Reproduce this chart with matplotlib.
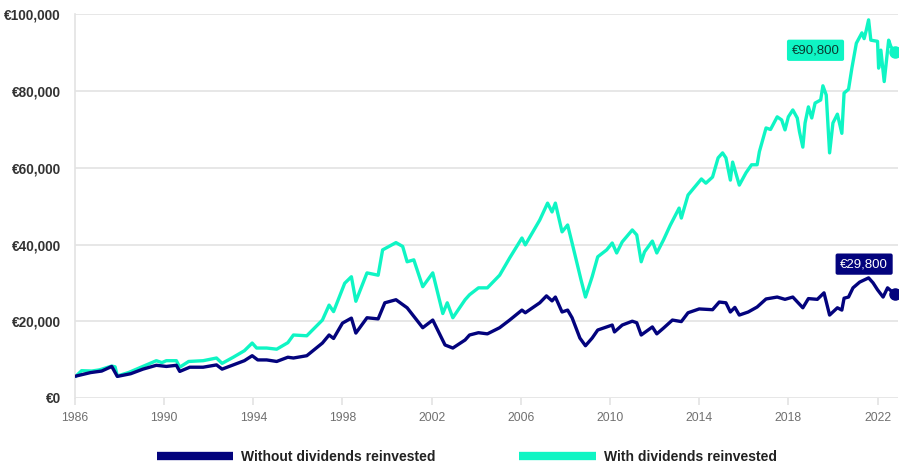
import matplotlib
matplotlib.use("Agg")
import matplotlib.pyplot as plt
from matplotlib.ticker import FuncFormatter, FixedLocator

# ---------------- data ----------------
years_div = [1986.05, 1986.3, 1986.75, 1987.1, 1987.65, 1987.8, 1987.9, 1988.4, 1989.05, 1989.65,
             1989.9, 1990.1, 1990.55, 1990.7, 1991.1, 1991.75, 1992.35, 1992.6, 1993.1, 1993.6,
             1993.95, 1994.15, 1994.6, 1995.05, 1995.55, 1995.8, 1996.4, 1997.1, 1997.4, 1997.6,
             1998.1, 1998.4, 1998.6, 1999.1, 1999.6, 1999.8, 2000.4, 2000.7, 2000.9, 2001.2,
             2001.6, 2002.05, 2002.5, 2002.7, 2002.95, 2003.5, 2003.7, 2004.1, 2004.5, 2005.05,
             2005.5, 2006.05, 2006.2, 2006.85, 2007.2, 2007.4, 2007.55, 2007.85, 2008.1, 2008.3,
             2008.7, 2008.9, 2009.2, 2009.45, 2009.85, 2010.1, 2010.3, 2010.55, 2011.0, 2011.2,
             2011.4, 2011.55, 2011.9, 2012.1, 2012.4, 2012.7, 2013.1, 2013.2, 2013.5, 2013.8,
             2014.1, 2014.3, 2014.6, 2014.85, 2015.05, 2015.2, 2015.4, 2015.5, 2015.8, 2016.1,
             2016.35, 2016.6, 2016.7, 2017.0, 2017.2, 2017.5, 2017.7, 2017.85, 2018.0, 2018.2,
             2018.4, 2018.5, 2018.65, 2018.75, 2018.9, 2019.05, 2019.2, 2019.45, 2019.55, 2019.7,
             2019.85, 2020.0, 2020.2, 2020.4, 2020.5, 2020.7, 2020.85, 2021.05, 2021.3, 2021.4,
             2021.5, 2021.6, 2021.7, 2022.0, 2022.05, 2022.15, 2022.3, 2022.5, 2022.6, 2022.77]
with_div = [5700, 7100, 7000, 7300, 8300, 8100, 5700, 6600, 8200, 9700,
            9200, 9700, 9700, 8000, 9500, 9700, 10400, 9000, 10600, 12300,
            14300, 13000, 13000, 12700, 14400, 16400, 16200, 20300, 24200, 22500,
            29900, 31600, 25200, 32600, 32000, 38600, 40500, 39500, 35500, 36000,
            29000, 32600, 22000, 24800, 20900, 25600, 26900, 28700, 28700, 32000,
            36500, 41700, 39900, 46400, 50800, 48500, 50800, 43300, 45100, 40400,
            30800, 26300, 31600, 36800, 38600, 40400, 37800, 40700, 43800, 42500,
            35500, 38100, 40900, 37800, 41200, 45000, 49500, 46900, 52900, 55000,
            57100, 56000, 57600, 62600, 63900, 62600, 56800, 61500, 55500, 58700,
            60800, 60800, 64200, 70400, 70000, 73300, 72500, 69900, 73300, 75100,
            73000, 69400, 65400, 71700, 75900, 73000, 76900, 77700, 81400, 79000,
            63900, 71700, 74000, 69000, 79500, 80500, 86000, 92500, 95200, 93700,
            96000, 98600, 93300, 93000, 86000, 90700, 82500, 93300, 91600, 90300]

years_nodiv = [1986.05, 1986.7, 1987.2, 1987.65, 1987.9, 1988.5, 1989.05, 1989.65, 1990.1, 1990.55,
               1990.7, 1991.15, 1991.75, 1992.35, 1992.6, 1993.1, 1993.6, 1993.95, 1994.2, 1994.6,
               1995.05, 1995.55, 1995.8, 1996.4, 1997.1, 1997.4, 1997.6, 1998.0, 1998.4, 1998.6,
               1999.1, 1999.6, 1999.9, 2000.4, 2000.9, 2001.6, 2002.05, 2002.6, 2002.95, 2003.5,
               2003.7, 2004.1, 2004.5, 2005.05, 2005.5, 2006.05, 2006.2, 2006.85, 2007.15, 2007.4,
               2007.55, 2007.85, 2008.1, 2008.3, 2008.65, 2008.9, 2009.2, 2009.45, 2009.85, 2010.1,
               2010.2, 2010.55, 2011.0, 2011.2, 2011.4, 2011.9, 2012.1, 2012.4, 2012.8, 2013.2,
               2013.5, 2014.0, 2014.6, 2014.9, 2015.2, 2015.4, 2015.6, 2015.8, 2016.2, 2016.6,
               2017.0, 2017.5, 2017.85, 2018.2, 2018.65, 2018.9, 2019.3, 2019.6, 2019.85, 2020.2,
               2020.4, 2020.5, 2020.7, 2020.9, 2021.2, 2021.6, 2021.8, 2022.0, 2022.25, 2022.45,
               2022.77]
without_div = [5700, 6600, 7000, 8200, 5600, 6300, 7500, 8500, 8200, 8500,
               6900, 8000, 8000, 8600, 7500, 8600, 9700, 11000, 9900, 9900,
               9500, 10600, 10400, 11000, 14300, 16400, 15500, 19500, 20800, 16900,
               20900, 20600, 24800, 25600, 23500, 18300, 20300, 13800, 13000, 15100,
               16400, 17000, 16700, 18300, 20300, 22900, 22200, 24800, 26600, 25300,
               26300, 22400, 22900, 20900, 15600, 13600, 15600, 17700, 18500, 19000,
               17200, 19000, 20000, 19600, 16400, 18500, 16700, 18200, 20300, 19900,
               22200, 23200, 23000, 25000, 24800, 22400, 23600, 21600, 22400, 23700,
               25800, 26300, 25700, 26300, 23500, 25900, 25700, 27400, 21600, 23500,
               22900, 26000, 26300, 28700, 30200, 31300, 30000, 28200, 26300, 28700,
               27100]

x_ticks = [1986, 1990, 1994, 1998, 2002, 2006, 2010, 2014, 2018, 2022]
y_ticks = [0, 20000, 40000, 60000, 80000, 100000]
label_div = "€90,800"
label_nodiv = "€29,800"
series_names = ["Without dividends reinvested", "With dividends reinvested"]

# ---------------- style ----------------
NAVY = "#03037d"
CYAN = "#0ff5c4"
GRID = "#e3e3e3"
FONT = ["Liberation Sans", "DejaVu Sans"]

fig = plt.figure(figsize=(9.03, 4.67), dpi=100)
ax = fig.add_axes([0.083, 0.148, 0.911, 0.821])

ax.plot(years_nodiv, without_div, color=NAVY, lw=2.4, solid_joinstyle="round",
        label=series_names[0], zorder=3)
ax.plot(years_div, with_div, color=CYAN, lw=2.4, solid_joinstyle="round",
        label=series_names[1], zorder=2)
ax.plot(years_nodiv[-1], without_div[-1], "o", color=NAVY, ms=8, zorder=4)
ax.plot(years_div[-1], with_div[-1], "o", color=CYAN, ms=8, zorder=4)

ax.set_xlim(1986, 2022.9)
ax.set_ylim(0, 100000)
ax.yaxis.set_major_locator(FixedLocator(y_ticks))
ax.xaxis.set_major_locator(FixedLocator(x_ticks))
ax.yaxis.set_major_formatter(FuncFormatter(lambda v, p: "€{:,.0f}".format(v)))
ax.grid(axis="y", color=GRID, lw=1.2, zorder=0)
for s in ["top", "right", "bottom"]:
    ax.spines[s].set_visible(False)
ax.spines["left"].set_color(GRID)
ax.spines["left"].set_linewidth(1.2)
ax.tick_params(axis="y", length=0, pad=10)
ax.tick_params(axis="x", length=5, color=GRID, width=1.2, pad=5)
for t in ax.get_yticklabels():
    t.set_fontfamily(FONT)
    t.set_fontweight("bold")
    t.set_fontsize(9.8)
    t.set_color("#333333")
for t in ax.get_xticklabels():
    t.set_fontfamily(FONT)
    t.set_fontsize(8.8)
    t.set_color("#707070")

# end labels
ax.annotate(label_div, xy=(years_div[-1], with_div[-1]), xytext=(-57, 1),
            textcoords="offset points", ha="center", va="center",
            fontsize=9.5, family=FONT, color="#0a3a30",
            bbox=dict(boxstyle="round,pad=0.35,rounding_size=0.15", fc=CYAN, ec="none"))
ax.annotate(label_nodiv, xy=(years_nodiv[-1], without_div[-1]), xytext=(-22, 21.5),
            textcoords="offset points", ha="center", va="center",
            fontsize=9.5, family=FONT, color="white",
            bbox=dict(boxstyle="round,pad=0.35,rounding_size=0.15", fc=NAVY, ec="none"))

leg = fig.legend(loc="center", bbox_to_anchor=(0.517, 0.022), ncol=2, frameon=False,
                 handlelength=5.5, handleheight=0.8, handletextpad=0.58, columnspacing=6.0,
                 prop=dict(family=FONT, weight="bold", size=10))
for h in leg.legend_handles:
    h.set_linewidth(6)
    h.set_solid_capstyle("butt")
for t in leg.get_texts():
    t.set_color("#222222")

fig.savefig("out.png", dpi=100)
